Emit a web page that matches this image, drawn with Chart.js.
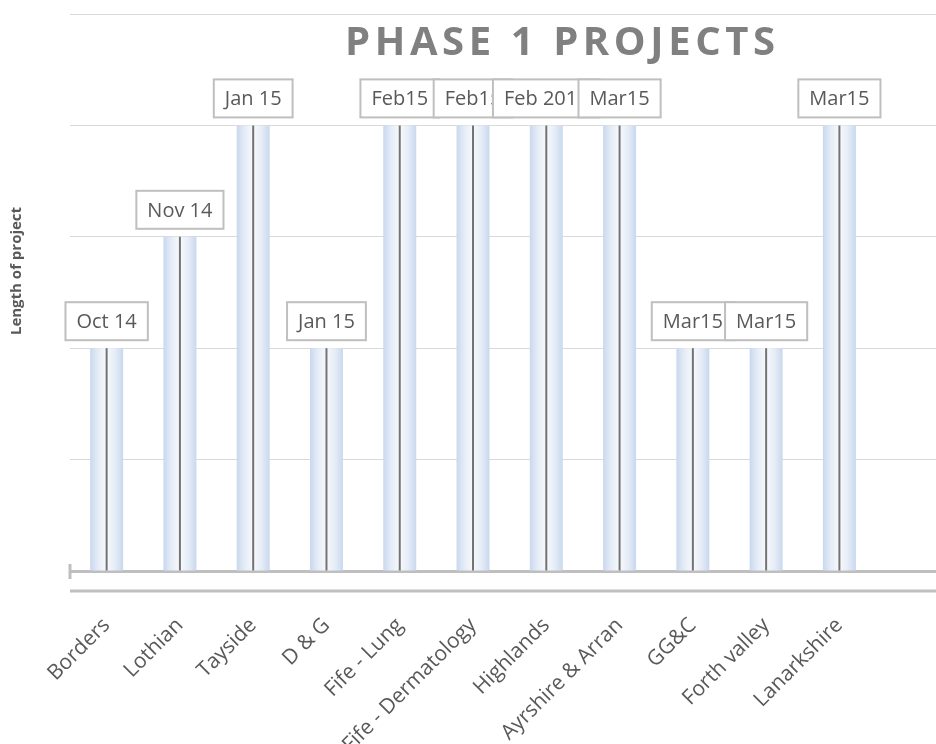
<!DOCTYPE html>
<html>
<head>
<meta charset="utf-8">
<script src="https://cdn.jsdelivr.net/npm/chart.js@4.4.1/dist/chart.umd.min.js"></script>
<style>
  html, body { margin: 0; padding: 0; background: #ffffff; }
  #wrap { width: 936px; height: 744px; overflow: hidden; position: relative; }
  #c { display: block; }
</style>
</head>
<body>
<div id="wrap"><canvas id="c" width="973" height="744"></canvas></div>
<script>
// ---- data ----
const categories = ['Borders', 'Lothian', 'Tayside', 'D & G', 'Fife - Lung', 'Fife - Dermatology', 'Highlands', 'Ayrshire & Arran', 'GG&C', 'Forth valley', 'Lanarkshire'];
const projectLength = [2, 3, 4, 2, 4, 4, 4, 4, 2, 2, 4];
const startLabels = ['Oct 14', 'Nov 14', 'Jan 15', 'Jan 15', 'Feb15', 'Feb15', 'Feb 2015', 'Mar15', 'Mar15', 'Mar15', 'Mar15'];
const chartTitle = 'PHASE 1 PROJECTS';
const yAxisTitle = 'Length of project';
const yMax = 5;

const FONT = '"Open Sans", "DejaVu Sans", sans-serif';
const TEXT_GREY = '#595959';
const AXIS_GREY = '#bfbfbf';

// the reference is cropped on the right: one empty slot remains past Lanarkshire
const axisLabels = categories.concat(['']);

function barFill(context) {
  const chart = context.chart;
  if (context.dataIndex === undefined || !chart.chartArea) return '#dde7f5';
  const xs = chart.scales.x;
  const cx = xs.getPixelForValue(context.dataIndex);
  const w = 33;
  const g = chart.ctx.createLinearGradient(cx - w / 2, 0, cx + w / 2, 0);
  g.addColorStop(0, '#c9d8ee');
  g.addColorStop(0.25, '#e6edf7');
  g.addColorStop(0.5, '#f7f9fc');
  g.addColorStop(0.75, '#e6edf7');
  g.addColorStop(1, '#c9d8ee');
  return g;
}

const decorations = {
  id: 'decorations',
  afterDatasetsDraw(chart) {
    const ctx = chart.ctx;
    const meta = chart.getDatasetMeta(0);
    const area = chart.chartArea;
    ctx.save();
    // centre lines in each bar
    meta.data.forEach(bar => {
      ctx.beginPath();
      ctx.strokeStyle = '#737373';
      ctx.lineWidth = 2;
      ctx.moveTo(bar.x, bar.y);
      ctx.lineTo(bar.x, bar.base);
      ctx.stroke();
    });
    // second baseline and left tick
    ctx.strokeStyle = AXIS_GREY;
    ctx.lineWidth = 3;
    ctx.beginPath();
    ctx.moveTo(area.left, area.bottom + 20);
    ctx.lineTo(chart.width, area.bottom + 20);
    ctx.stroke();
    ctx.beginPath();
    ctx.moveTo(area.left, area.bottom - 7);
    ctx.lineTo(area.left, area.bottom + 8);
    ctx.stroke();
    // data labels in boxes
    ctx.font = '20px ' + FONT;
    ctx.textAlign = 'center';
    ctx.textBaseline = 'middle';
    meta.data.forEach((bar, i) => {
      const txt = startLabels[i];
      if (!txt) return;
      const tw = ctx.measureText(txt).width;
      const bw = tw + 22;
      const bh = 38;
      const bx = bar.x - bw / 2;
      const by = bar.y - 8 - bh;
      ctx.fillStyle = '#ffffff';
      ctx.fillRect(bx, by, bw, bh);
      ctx.strokeStyle = AXIS_GREY;
      ctx.lineWidth = 2;
      ctx.strokeRect(bx, by, bw, bh);
      ctx.fillStyle = TEXT_GREY;
      ctx.fillText(txt, bar.x, by + bh / 2 + 1);
    });
    ctx.restore();
  },
  afterDraw(chart) {
    const ctx = chart.ctx;
    ctx.save();
    // title
    ctx.font = 'bold 40px ' + FONT;
    ctx.fillStyle = '#808080';
    ctx.textBaseline = 'alphabetic';
    ctx.textAlign = 'left';
    const chars = chartTitle.split('');
    const widths = chars.map(ch => ctx.measureText(ch).width);
    const natural = widths.reduce((a, b) => a + b, 0);
    const target = 430;
    const spacing = (target - natural) / (chars.length - 1);
    let x = 560 - target / 2;
    chars.forEach((ch, i) => {
      ctx.fillText(ch, x, 55);
      x += widths[i] + spacing;
    });
    // y axis title
    ctx.translate(17, 271);
    ctx.rotate(-Math.PI / 2);
    ctx.font = 'bold 15px ' + FONT;
    ctx.fillStyle = TEXT_GREY;
    ctx.textAlign = 'center';
    ctx.textBaseline = 'middle';
    ctx.fillText(yAxisTitle, 0, 0);
    ctx.restore();
  }
};

new Chart(document.getElementById('c'), {
  type: 'bar',
  data: {
    labels: axisLabels,
    datasets: [{
      data: projectLength,
      backgroundColor: barFill,
      borderWidth: 0,
      barPercentage: 0.45,
      categoryPercentage: 1.0
    }]
  },
  options: {
    responsive: false,
    animation: false,
    layout: { padding: { top: 14, right: 12, left: 0, bottom: 0 } },
    plugins: {
      legend: { display: false },
      title: { display: false },
      tooltip: { enabled: false }
    },
    scales: {
      x: {
        grid: { display: false, drawTicks: false },
        border: { display: true, color: AXIS_GREY, width: 3 },
        ticks: {
          autoSkip: false,
          minRotation: 45,
          maxRotation: 45,
          padding: 42,
          color: TEXT_GREY,
          font: { family: FONT, size: 21 }
        },
        afterFit(scale) { scale.height = 173; }
      },
      y: {
        min: 0,
        max: yMax,
        ticks: { display: false, stepSize: 1 },
        grid: { color: '#d9d9d9', lineWidth: 1, drawTicks: false },
        border: { display: false },
        afterFit(scale) { scale.width = 70; }
      }
    }
  },
  plugins: [decorations]
});
</script>
</body>
</html>
